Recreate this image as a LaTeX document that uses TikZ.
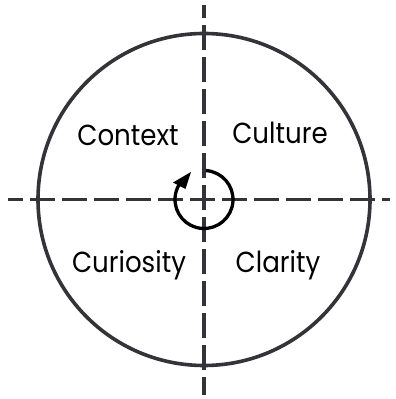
\documentclass[tikz,border=0pt]{standalone}
\usepackage{fontspec}
\setmainfont{Poppins}[FakeStretch=0.9]
\definecolor{ink}{HTML}{333338}
\tikzset{
  axis/.style={draw=ink, line width=3.6pt, dash pattern=on 25pt off 7pt},
  ring/.style={draw=ink, line width=3.6pt},
  lbl/.style={font=\fontsize{29}{32}\selectfont, text=black, inner sep=0pt}
}
\begin{document}
\begin{tikzpicture}[x=1pt,y=1pt]
\useasboundingbox (0,0) rectangle (396,399);
\coordinate (c) at (204,199.5);
\coordinate (top) at (204,394);
\coordinate (bot) at (204,4);
\coordinate (lft) at (8,199.5);
\coordinate (rgt) at (390,199.5);
\draw[ring] (c) circle[radius=166];
\draw[axis, dash phase=12pt] (top) -- (bot);
\draw[axis, dash phase=10pt] (lft) -- (rgt);
\draw[line width=3.3pt, black]
  ([shift={(86:29)}]c) arc[start angle=86, end angle=-212, radius=29];
\coordinate (tip) at ([shift={(-13,27.5)}]c);
\coordinate (bl) at ([shift={(-31,17)}]c);
\coordinate (br) at ([shift={(-18.5,10.5)}]c);
\fill[black] (tip) -- (bl) -- (br) -- cycle;
\node[lbl] (context) at (128,264) {Context};
\node[lbl] (culture) at (280,266) {Culture};
\node[lbl] (curiosity) at (129,134) {Curiosity};
\node[lbl] (clarity) at (278,134) {Clarity};
\end{tikzpicture}
\end{document}
